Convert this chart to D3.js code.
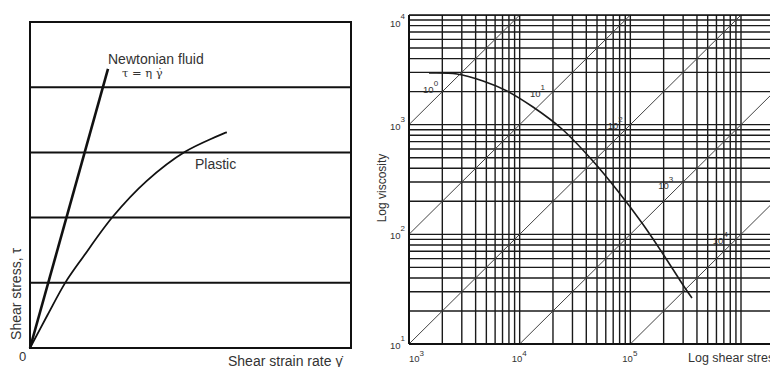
<!DOCTYPE html>
<html><head><meta charset="utf-8">
<script src="https://cdn.jsdelivr.net/npm/d3@7"></script>
<style>
html,body{margin:0;padding:0;background:#fff;}
svg{display:block;font-family:"Liberation Sans",Arial,sans-serif;}
</style></head>
<body>
<svg id="c" width="770" height="367"></svg>
<script>
// ---------- Left panel data (linear, arbitrary units) ----------
const leftGridStress = [1, 2, 3, 4];
const newtonianRate = [0, 2.43];
const newtonianStress = [0, 4.28];
const plasticRate = [0, 0.55, 1.11, 1.66, 2.59, 3.63, 4.83, 6.13];
const plasticStress = [0, 0.51, 1.01, 1.40, 2.02, 2.56, 3.01, 3.31];

// ---------- Right panel data (log-log) ----------
const xTickValues = [1e3, 1e4, 1e5];
const xTickExp = ["3", "4", "5"];
const yTickValues = [1e1, 1e2, 1e3, 1e4];
const yTickExp = ["1", "2", "3", "4"];
const shearRates = [1, 10, 100, 1000, 10000];
const shearRateExp = ["0", "1", "2", "3", "4"];
const shearRateLabelStress = [1950, 18000, 91000, 260000, 810000];
const curveStress = [1516, 2715, 4664, 7684, 13200, 24130, 45040, 75780, 127500, 197400, 311900, 360700];
const curveViscosity = [2959, 2897, 2501, 2027, 1449, 913, 476, 253.7, 126.9, 66.2, 32.4, 26.3];

const svg = d3.select("#c");
const ink = "#111", txt = "#333";

// ================= LEFT PANEL =================
const xL = d3.scaleLinear().domain([0, 10]).range([30, 351]);
const yL = d3.scaleLinear().domain([0, 5]).range([348, 22]);
const L = svg.append("g");

L.selectAll("line.grid").data(leftGridStress).join("line")
  .attr("x1", xL(0)).attr("x2", xL(10))
  .attr("y1", d => yL(d)).attr("y2", d => yL(d))
  .attr("stroke", ink).attr("stroke-width", 2);
L.append("rect").attr("x", xL(0)).attr("y", yL(5))
  .attr("width", xL(10) - xL(0)).attr("height", yL(0) - yL(5))
  .attr("fill", "none").attr("stroke", ink).attr("stroke-width", 2);

const newt = newtonianRate.map((r, i) => [r, newtonianStress[i]]);
const plas = plasticRate.map((r, i) => [r, plasticStress[i]]);
const lineL = d3.line().x(d => xL(d[0])).y(d => yL(d[1]));
L.append("path").attr("d", lineL(newt)).attr("fill", "none")
  .attr("stroke", ink).attr("stroke-width", 2.6);
L.append("path").attr("d", lineL.curve(d3.curveCatmullRom)(plas)).attr("fill", "none")
  .attr("stroke", ink).attr("stroke-width", 1.8);

const ne = newt[newt.length - 1];
L.append("text").attr("x", xL(ne[0])).attr("y", yL(ne[1]) - 5)
  .attr("font-size", 14).attr("fill", txt).text("Newtonian fluid");
L.append("text").attr("x", xL(ne[0]) + 14).attr("y", yL(ne[1]) + 8)
  .attr("font-size", 11.5).attr("fill", txt).attr("font-family", "DejaVu Serif, serif")
  .text("τ = η γ̇");
L.append("text").attr("x", 195).attr("y", 169)
  .attr("font-size", 14).attr("fill", txt).text("Plastic");
L.append("text").attr("x", 19).attr("y", 361)
  .attr("font-size", 13).attr("fill", txt).text("0");
L.append("text").attr("x", 228).attr("y", 366)
  .attr("font-size", 14).attr("fill", txt).text("Shear strain rate  γ̇");
L.append("text").attr("transform", "translate(21,294) rotate(-90)")
  .attr("text-anchor", "middle").attr("font-size", 14).attr("fill", txt)
  .text("Shear stress, τ");

// ================= RIGHT PANEL =================
const xR = d3.scaleLog().domain([1e3, 1e6]).range([409, 741]);
const yR = d3.scaleLog().domain([1e1, 1e4]).range([344, 15]);
const R = svg.append("g");
const rightEdge = 800;

svg.append("defs").append("clipPath").attr("id", "clipR")
  .append("rect").attr("x", xR(1e3)).attr("y", yR(1e4))
  .attr("width", rightEdge - xR(1e3)).attr("height", yR(1e1) - yR(1e4));

const xMax = xR.invert(rightEdge);
const vLines = [];
for (let n = 3; n <= 6; n++) for (let k = 1; k <= 9; k++) {
  const v = k * Math.pow(10, n);
  if (v <= xMax) vLines.push(v);
}
const hLines = [];
for (let n = 1; n <= 3; n++) for (let k = 1; k <= 9; k++) hLines.push(k * Math.pow(10, n));
hLines.push(1e4);

const G = R.append("g").attr("clip-path", "url(#clipR)");
G.selectAll("line.v").data(vLines).join("line")
  .attr("x1", d => xR(d)).attr("x2", d => xR(d))
  .attr("y1", yR(1e4)).attr("y2", yR(1e1))
  .attr("stroke", "#1a1a1a").attr("stroke-width", 1.4);
G.selectAll("line.h").data(hLines).join("line")
  .attr("x1", xR(1e3)).attr("x2", rightEdge)
  .attr("y1", d => yR(d)).attr("y2", d => yR(d))
  .attr("stroke", "#1a1a1a").attr("stroke-width", 1.4);

// constant shear-rate lines: viscosity = stress / rate
G.selectAll("line.rate").data(shearRates).join("line")
  .attr("x1", xR(1e3)).attr("y1", d => yR(1e3 / d))
  .attr("x2", xR(1e8)).attr("y2", d => yR(1e8 / d))
  .attr("stroke", "#444").attr("stroke-width", 1);

// viscosity curve
const curve = curveStress.map((s, i) => [s, curveViscosity[i]]);
G.append("path").attr("d", d3.line().x(d => xR(d[0])).y(d => yR(d[1])).curve(d3.curveCatmullRom)(curve))
  .attr("fill", "none").attr("stroke", "#1a1a1a").attr("stroke-width", 1.6);

// frame
R.append("line").attr("x1", xR(1e3)).attr("x2", xR(1e3)).attr("y1", yR(1e4)).attr("y2", yR(1e1))
  .attr("stroke", ink).attr("stroke-width", 2);
R.append("line").attr("x1", xR(1e3)).attr("x2", rightEdge).attr("y1", yR(1e1)).attr("y2", yR(1e1))
  .attr("stroke", ink).attr("stroke-width", 2);
R.append("line").attr("x1", xR(1e3)).attr("x2", rightEdge).attr("y1", yR(1e4)).attr("y2", yR(1e4))
  .attr("stroke", ink).attr("stroke-width", 1.6);

// rate labels
shearRates.forEach((r, i) => {
  const s = shearRateLabelStress[i];
  const t = R.append("text").attr("x", xR(s) - 3).attr("y", yR(s / r))
    .attr("text-anchor", "end").attr("font-size", 9.5).attr("fill", txt);
  t.append("tspan").text("10");
  t.append("tspan").attr("dy", -7).attr("font-size", 8).text(shearRateExp[i]);
});

// y tick labels
yTickValues.forEach((v, i) => {
  const y = yR(v) + (v === 1e4 ? 12 : 5);
  const t = R.append("text").attr("x", xR(1e3) - 4).attr("y", y)
    .attr("text-anchor", "end").attr("font-size", 9.5).attr("fill", txt);
  t.append("tspan").text("10");
  t.append("tspan").attr("dy", -8).attr("font-size", 8).text(yTickExp[i]);
});

// x tick labels
xTickValues.forEach((v, i) => {
  const x = Math.max(xR(v) - 8, xR(1e3));
  const t = R.append("text").attr("x", x).attr("y", 362)
    .attr("font-size", 9.5).attr("fill", txt);
  t.append("tspan").text("10");
  t.append("tspan").attr("dy", -6).attr("font-size", 8).text(xTickExp[i]);
});

R.append("text").attr("x", 688).attr("y", 362)
  .attr("font-size", 12.5).attr("fill", txt).text("Log shear stress");
R.append("text").attr("transform", "translate(386,188) rotate(-90)")
  .attr("text-anchor", "middle").attr("font-size", 12).attr("fill", txt)
  .text("Log viscosity");
</script>
</body></html>
